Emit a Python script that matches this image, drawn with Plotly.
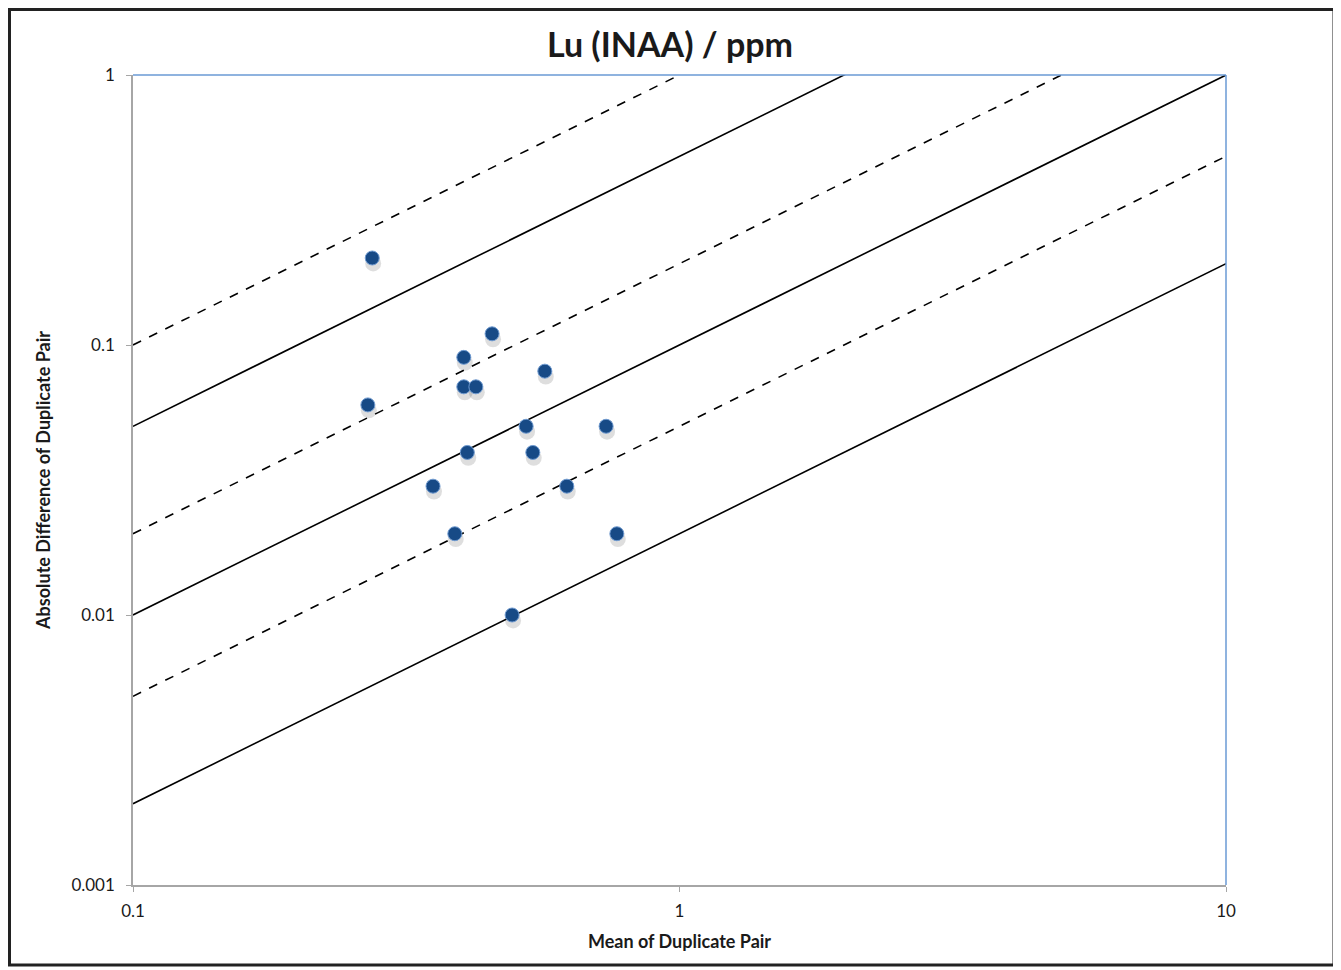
import plotly.graph_objects as go

# Data
mean_pair = [0.274, 0.269, 0.403, 0.454, 0.403, 0.424, 0.567, 0.524, 0.734,
             0.409, 0.539, 0.354, 0.622, 0.388, 0.768, 0.494]
abs_diff = [0.21, 0.06, 0.09, 0.11, 0.07, 0.07, 0.08, 0.05, 0.05,
            0.04, 0.04, 0.03, 0.03, 0.02, 0.02, 0.01]

# Reference precision lines: |diff| = k * mean
line_k = [0.02, 0.05, 0.1, 0.2, 0.5, 1.0]
line_dash = ["solid", "dash", "solid", "dash", "solid", "dash"]
line_x = [0.1, 10]

x_ticks = [0.1, 1, 10]
x_tick_text = ["0.1", "1", "10"]
y_ticks = [0.001, 0.01, 0.1, 1]
y_tick_text = ["0.001", "0.01", "0.1", "1"]

FONT = "Lato, 'Open Sans', sans-serif"

fig = go.Figure()
for k, d in zip(line_k, line_dash):
    fig.add_trace(go.Scatter(
        x=line_x, y=[k * v for v in line_x], mode="lines",
        line=dict(color="black", width=1.6, dash=d),
        showlegend=False, hoverinfo="skip"))

# soft shadow layer
fig.add_trace(go.Scatter(
    x=[v * 1.004 for v in mean_pair], y=[v * 0.955 for v in abs_diff], mode="markers",
    marker=dict(size=16, color="rgba(0,0,0,0.13)", line=dict(width=0)),
    showlegend=False, hoverinfo="skip"))
fig.add_trace(go.Scatter(
    x=mean_pair, y=abs_diff, mode="markers",
    marker=dict(size=14, color="#174a86", line=dict(color="#6f9ad0", width=1)),
    showlegend=False))

# the page has an 8px body margin; the figure is sized to sit inside it
OFF = 8
W, H = 1341 - OFF, 970 - OFF
L, R, T, B = 133 - OFF, 115, 75 - OFF, 85
pw, ph = W - L - R, H - T - B

def px(xp):
    return (xp - OFF - L) / pw

def py(yp):
    return 1 - (yp - OFF - T) / ph

shapes = [
    # outer frame
    dict(type="rect", xref="paper", yref="paper",
         x0=px(9.5), x1=px(1334), y0=py(965), y1=py(9.5),
         line=dict(color="#222222", width=3), fillcolor="rgba(0,0,0,0)", layer="below"),
    # top and right blue borders
    dict(type="line", xref="paper", yref="paper", x0=0, x1=1, y0=1, y1=1,
         line=dict(color="#6a9ad4", width=1.5)),
    dict(type="line", xref="paper", yref="paper", x0=1, x1=1, y0=0, y1=1,
         line=dict(color="#6a9ad4", width=1.5)),
]

fig.update_layout(
    width=W, height=H,
    margin=dict(l=L, r=R, t=T, b=B),
    paper_bgcolor="white", plot_bgcolor="white",
    title=dict(text="<b>Lu (INAA) / ppm</b>", x=(670 - OFF) / W, xanchor="center",
               y=1 - (45 - OFF) / H, yanchor="middle",
               font=dict(family=FONT, size=34, color="#1a1a1a")),
    font=dict(family=FONT, color="#1a1a1a"),
    shapes=shapes,
    xaxis=dict(type="log", range=[-1, 1], tickvals=x_ticks, ticktext=x_tick_text,
               showgrid=False, zeroline=False, showline=True, linecolor="#a6a6a6",
               linewidth=1.5, ticks="outside", ticklen=5, tickcolor="#a6a6a6",
               ticklabelstandoff=5,
               tickfont=dict(size=17, family=FONT),
               title=dict(text="<b>Mean of Duplicate Pair</b>",
                          font=dict(size=18, family=FONT), standoff=15)),
    yaxis=dict(type="log", range=[-3, 0], tickvals=y_ticks, ticktext=y_tick_text,
               showgrid=False, zeroline=False, showline=True, linecolor="#a6a6a6",
               linewidth=1.5, ticks="outside", ticklen=5, tickcolor="#a6a6a6",
               ticklabelstandoff=8,
               tickfont=dict(size=17, family=FONT),
               title=dict(text="<b>Absolute Difference of Duplicate Pair</b>",
                          font=dict(size=18, family=FONT), standoff=16)),
)

fig.write_html("out.html")
